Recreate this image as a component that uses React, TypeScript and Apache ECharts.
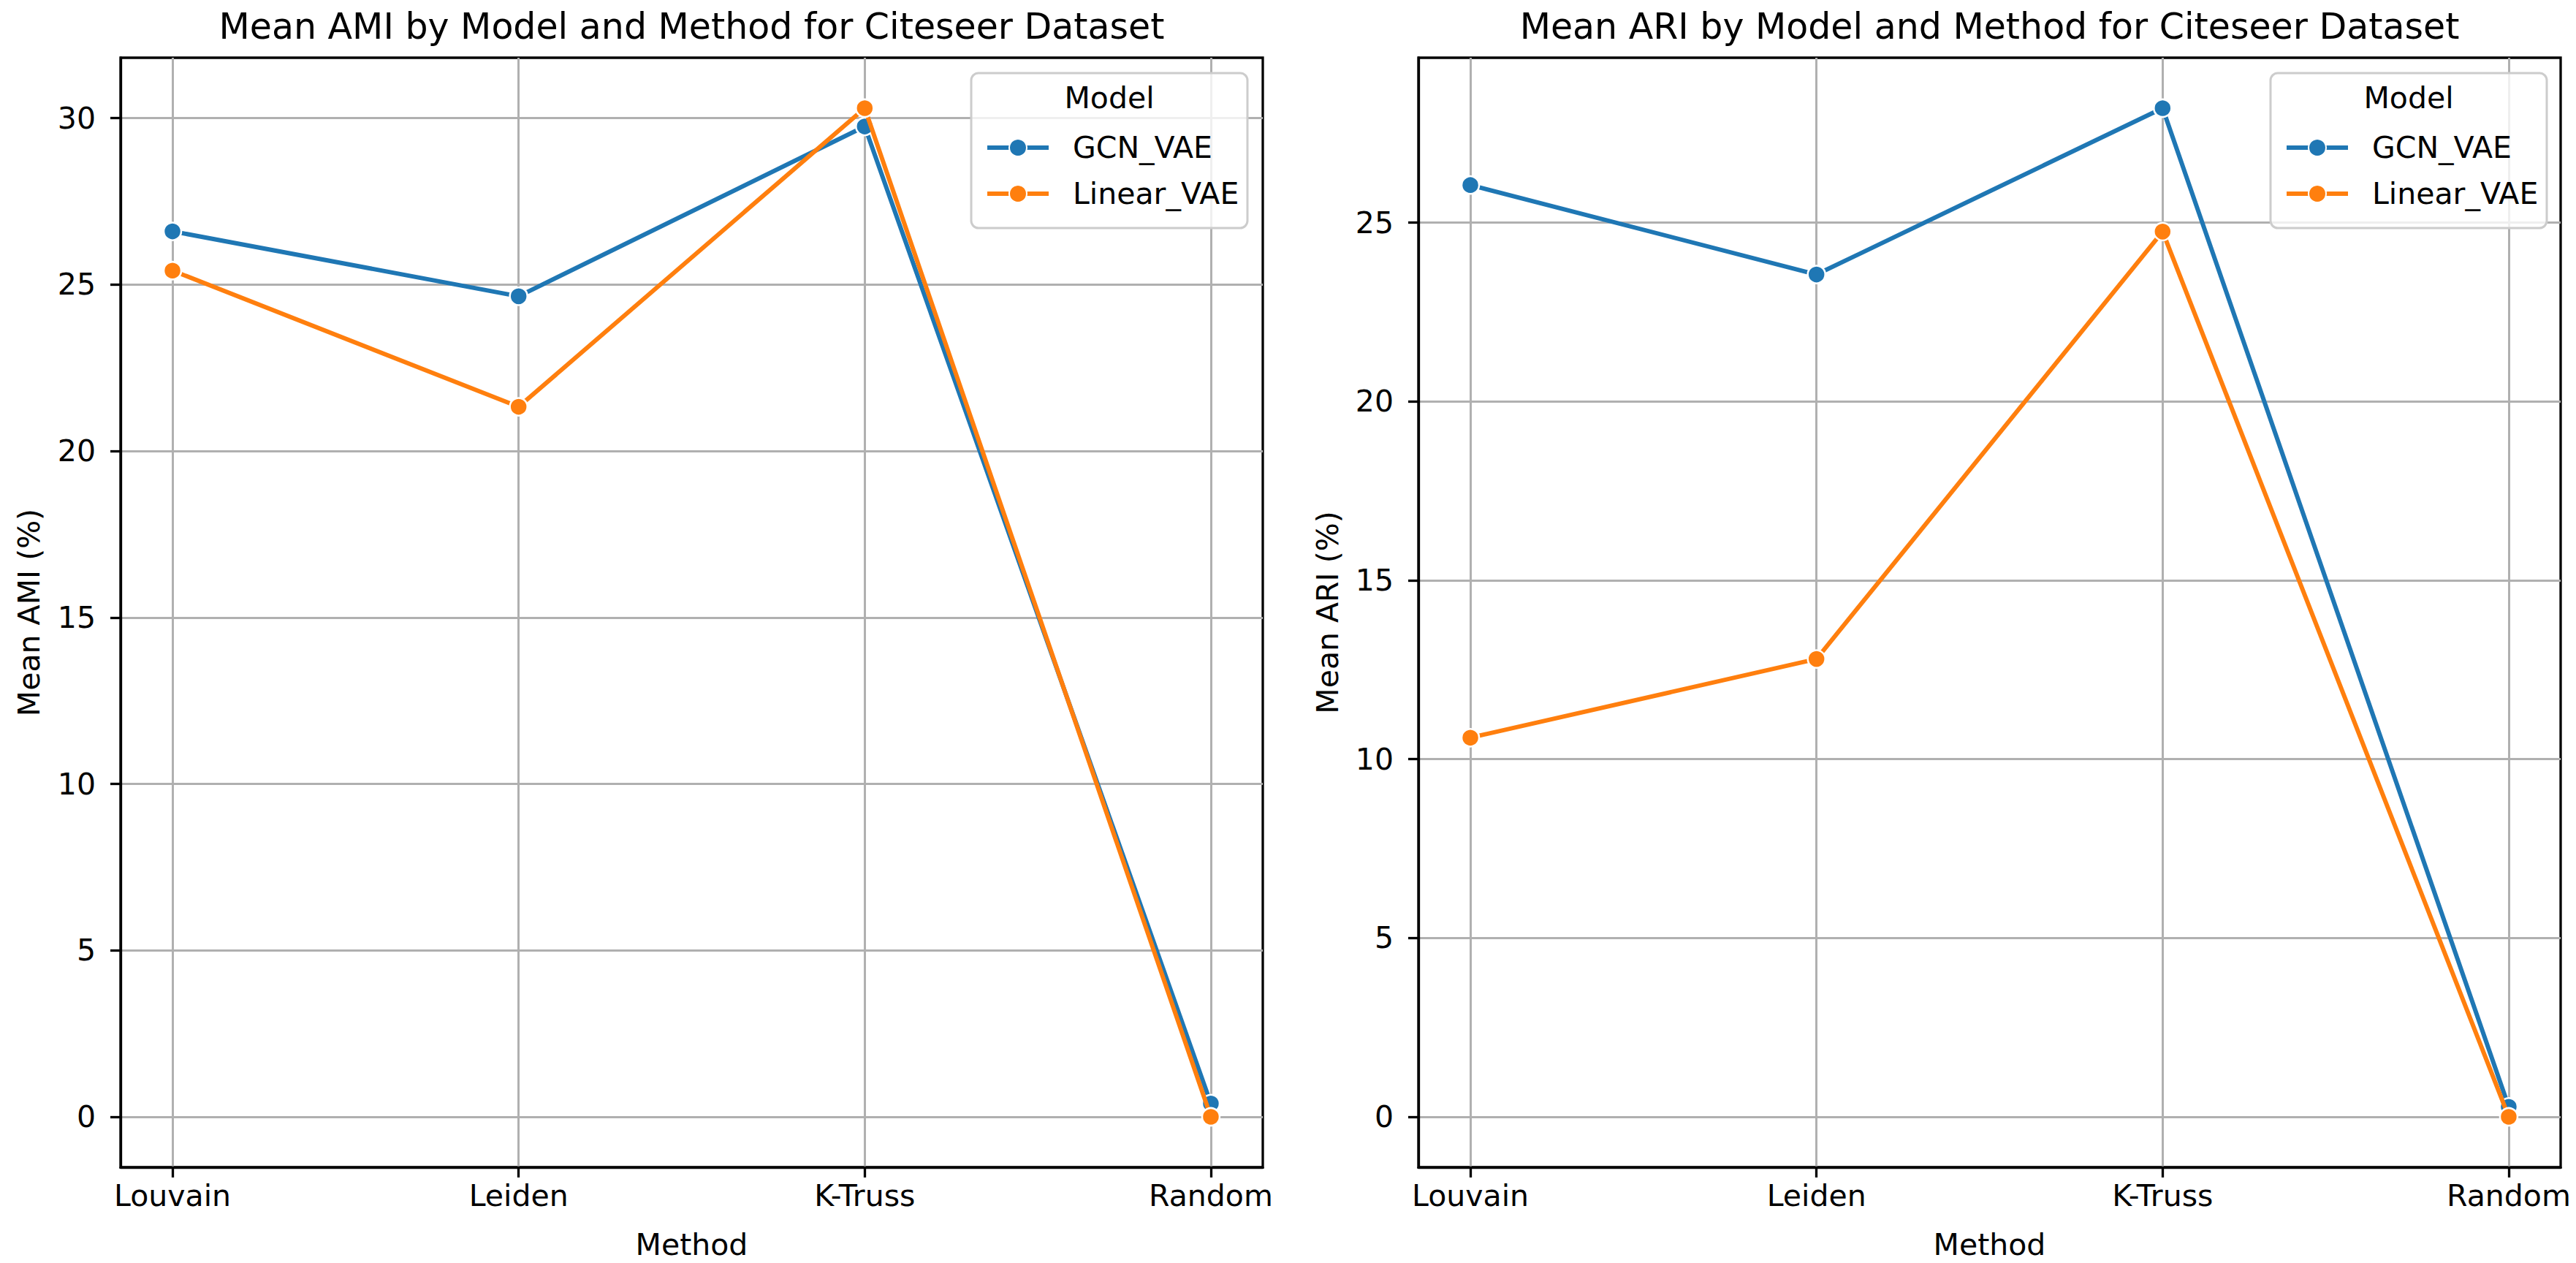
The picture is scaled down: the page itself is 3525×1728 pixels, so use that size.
import React, { useEffect, useRef } from "react";
import * as echarts from "echarts";

const methods = ["Louvain", "Leiden", "K-Truss", "Random"];
const models = ["GCN_VAE", "Linear_VAE"];
const colors = ["#1f77b4", "#ff7f0e"];

const amiGCN = [26.6, 24.65, 29.75, 0.4];
const amiLinear = [25.42, 21.33, 30.3, 0.0];
const ariGCN = [26.05, 23.55, 28.2, 0.28];
const ariLinear = [10.6, 12.8, 24.75, 0.0];

const yTicks = [0, 5, 10, 15, 20, 25, 30];
const xTicks = [0, 1, 2, 3];

const FONT = "DejaVu Sans";

function mplRange(arrs: number[][]) {
  const all = arrs.flat();
  const lo = Math.min(...all);
  const hi = Math.max(...all);
  const pad = (hi - lo) * 0.05;
  return [lo - pad, hi + pad];
}

export default function App() {
  const ref = useRef<HTMLDivElement>(null);
  useEffect(() => {
    document.body.style.margin = "0";
    const chart = echarts.init(ref.current!, null, { renderer: "svg" });

    const grids = [
      { left: 165, top: 79, width: 1563, height: 1518 },
      { left: 1941, top: 79, width: 1563, height: 1518 },
    ];
    const panels = [
      { title: "Mean AMI by Model and Method for Citeseer Dataset", yname: "Mean AMI (%)", data: [amiGCN, amiLinear], nameX: 40 },
      { title: "Mean ARI by Model and Method for Citeseer Dataset", yname: "Mean ARI (%)", data: [ariGCN, ariLinear], nameX: 1817 },
    ];

    const xAxis = grids.map((_, i) => ({
      type: "value",
      gridIndex: i,
      min: -0.15,
      max: 3.15,
      axisLine: { show: true, onZero: false, lineStyle: { color: "#000", width: 3.3 } },
      axisTick: { show: true, customValues: xTicks, length: 14, lineStyle: { color: "#000", width: 3.3 } },
      axisLabel: {
        customValues: xTicks,
        formatter: (v: number) => methods[Math.round(v)] ?? "",
        margin: 18,
        fontSize: 41,
        fontFamily: FONT,
        color: "#000",
      },
      splitLine: { show: true, lineStyle: { color: "#b0b0b0", width: 3 } },
    }));

    const yAxis = panels.map((p, i) => {
      const [mn, mx] = mplRange(p.data);
      return {
        type: "value",
        gridIndex: i,
        min: mn,
        max: mx,
        axisLine: { show: true, onZero: false, lineStyle: { color: "#000", width: 3.3 } },
        axisTick: { show: true, customValues: yTicks.filter((t) => t <= mx), length: 14, lineStyle: { color: "#000", width: 3.3 } },
        axisLabel: {
          customValues: yTicks.filter((t) => t <= mx),
          margin: 34,
          fontSize: 41,
          fontFamily: FONT,
          color: "#000",
        },
        splitLine: { show: true, lineStyle: { color: "#b0b0b0", width: 3 } },
      };
    });

    const series: any[] = [];
    panels.forEach((p, gi) => {
      p.data.forEach((vals, si) => {
        series.push({
          type: "line",
          name: models[si],
          xAxisIndex: gi,
          yAxisIndex: gi,
          data: methods.map((_, k) => [k, vals[k]]),
          symbol: "circle",
          symbolSize: 24,
          showAllSymbol: true,
          lineStyle: { color: colors[si], width: 6 },
          itemStyle: { color: colors[si], borderColor: "#fff", borderWidth: 2.5 },
          z: 2 + si,
        });
      });
    });

    const legendBoxes = [1329, 3107];
    const legend = legendBoxes.map((lx) => ({
      orient: "vertical",
      left: lx + 14,
      top: 174,
      itemWidth: 84,
      itemHeight: 30,
      itemGap: 17,
      data: models,
      selectedMode: false,
      lineStyle: { width: 6 },
      textStyle: { fontSize: 41, fontFamily: FONT, color: "#000", lineHeight: 46, padding: [0, 0, 0, 28] },
      z: 20,
    }));

    const graphic: any[] = [];
    panels.forEach((p, gi) => {
      const g = grids[gi];
      const cx = g.left + g.width / 2;
      graphic.push({
        type: "text",
        x: cx,
        y: 36,
        style: { text: p.title, fontSize: 49, fontFamily: FONT, fill: "#000", align: "center", verticalAlign: "middle" },
      });
      graphic.push({
        type: "text",
        x: cx,
        y: 1703,
        style: { text: "Method", fontSize: 41, fontFamily: FONT, fill: "#000", align: "center", verticalAlign: "middle" },
      });
      graphic.push({
        type: "text",
        x: p.nameX,
        y: g.top + g.height / 2,
        rotation: Math.PI / 2,
        style: { text: p.yname, fontSize: 41, fontFamily: FONT, fill: "#000", align: "center", verticalAlign: "middle" },
      });
      const lx = legendBoxes[gi];
      graphic.push({
        type: "rect",
        z: 10,
        shape: { x: lx, y: 100, width: 378, height: 212, r: 10 },
        style: { fill: "rgba(255,255,255,0.8)", stroke: "#cccccc", lineWidth: 3 },
      });
      graphic.push({
        type: "text",
        z: 11,
        x: lx + 189,
        y: 134,
        style: { text: "Model", fontSize: 41, fontFamily: FONT, fill: "#000", align: "center", verticalAlign: "middle" },
      });
    });

    chart.setOption({
      animation: false,
      backgroundColor: "#fff",
      grid: grids.map((g) => ({ ...g, show: true, borderColor: "#000", borderWidth: 3.3, backgroundColor: "transparent" })),
      xAxis,
      yAxis,
      legend,
      series,
      graphic,
    });
    return () => chart.dispose();
  }, []);
  return <div ref={ref} style={{ position: "absolute", left: 0, top: 0, width: 3525, height: 1728 }} />;
}
